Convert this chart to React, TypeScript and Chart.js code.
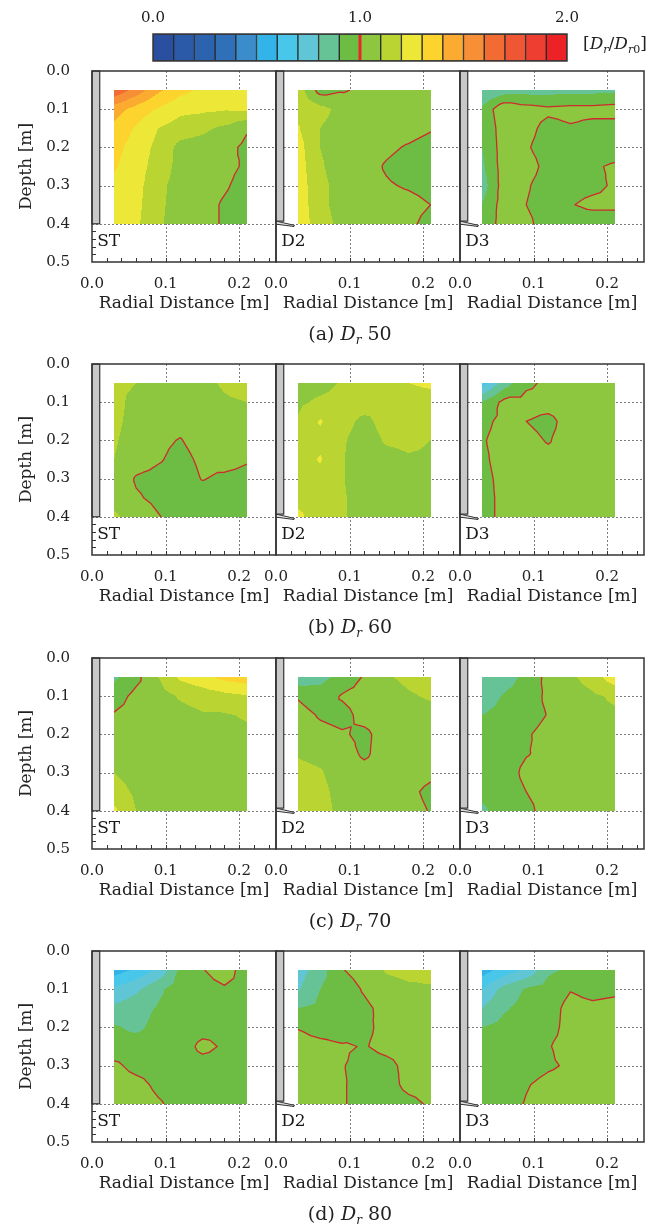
import React, { useEffect, useRef } from "react";
import { Chart, registerables } from "chart.js";

Chart.register(...registerables);

const FONT = "'DejaVu Serif', 'Liberation Serif', serif";

// measurement grid nodes (radial distance x, depth y)
const xNodes = [0.03, 0.06, 0.09, 0.12, 0.15, 0.18, 0.21];
const yNodes = [0.05, 0.1, 0.15, 0.2, 0.25, 0.3, 0.35, 0.4];
const xTickValues = [0, 0.1, 0.2];
const yTickValues = [0, 0.1, 0.2, 0.3, 0.4, 0.5];
const xMinorTicks = [0.02, 0.04, 0.06, 0.08, 0.1, 0.12, 0.14, 0.16, 0.18, 0.2, 0.22, 0.24];
const yMinorTicks = [0.42, 0.44, 0.46, 0.48];
const colorbarTicks = [0, 1, 2];
const contourLevel = 1.0;
const levelColors = [
  "#2a4fa0", "#2b5ba8", "#2c63af", "#2f70b8", "#3a8ccb",
  "#33b4e8", "#48c7ea", "#60c6d6", "#66c396", "#6dbd45",
  "#8dc63f", "#bad532", "#ede837", "#fdd42e", "#fbab30",
  "#f68f35", "#f26b33", "#ef5634", "#ee3e31", "#ec2227",
];
const panelLabels = ["ST", "D2", "D3"];
const rowLetters = ["(a)", "(b)", "(c)", "(d)"];
const rowDr = ["50", "60", "70", "80"];

// Dr/Dr0 values, rows = depth 0.05..0.40, cols = x 0.03..0.21
const dr50_ST = [
  [1.68, 1.56, 1.42, 1.33, 1.28, 1.26, 1.25],
  [1.45, 1.36, 1.29, 1.23, 1.22, 1.21, 1.22],
  [1.37, 1.29, 1.2, 1.15, 1.12, 1.08, 1.01],
  [1.33, 1.26, 1.17, 1.07, 1.06, 1.03, 0.98],
  [1.31, 1.25, 1.15, 1.07, 1.05, 1.02, 0.99],
  [1.28, 1.24, 1.12, 1.07, 1.04, 1.01, 0.97],
  [1.26, 1.23, 1.115, 1.07, 1.03, 0.99, 0.96],
  [1.25, 1.22, 1.11, 1.07, 1.03, 0.99, 0.96],
];
const dr50_D2 = [
  [1.15, 0.96, 0.99, 1.02, 1.05, 1.05, 1.05],
  [1.16, 1.13, 1.07, 1.05, 1.05, 1.05, 1.05],
  [1.21, 1.1, 1.06, 1.05, 1.05, 1.04, 1.01],
  [1.24, 1.1, 1.06, 1.05, 1.02, 0.99, 0.96],
  [1.25, 1.11, 1.06, 1.04, 0.99, 0.96, 0.95],
  [1.26, 1.12, 1.07, 1.04, 1.01, 0.99, 0.97],
  [1.27, 1.12, 1.07, 1.05, 1.04, 1.03, 1.0],
  [1.28, 1.13, 1.08, 1.05, 1.05, 1.02, 0.97],
];
const dr50_D3 = [
  [0.8, 0.85, 0.86, 0.86, 0.87, 0.87, 0.88],
  [0.92, 1.08, 1.04, 1.02, 1.03, 1.03, 1.04],
  [0.9, 1.06, 1.03, 0.97, 0.99, 0.97, 0.96],
  [0.9, 1.05, 1.01, 0.96, 0.96, 0.96, 0.96],
  [0.88, 1.05, 1.04, 0.97, 0.98, 0.99, 1.01],
  [0.85, 1.05, 1.01, 0.96, 0.97, 0.98, 1.01],
  [0.9, 1.05, 1.0, 0.96, 0.995, 1.02, 1.02],
  [0.92, 1.05, 1.02, 0.96, 0.95, 0.95, 0.95],
];
const dr60_ST = [
  [1.12, 1.1, 1.08, 1.07, 1.08, 1.11, 1.13],
  [1.13, 1.07, 1.06, 1.06, 1.07, 1.09, 1.1],
  [1.12, 1.07, 1.05, 1.03, 1.05, 1.06, 1.07],
  [1.11, 1.06, 1.02, 0.995, 1.04, 1.05, 1.06],
  [1.1, 1.05, 1.01, 0.97, 1.02, 1.04, 1.01],
  [1.08, 0.99, 0.97, 0.95, 1.005, 0.98, 0.97],
  [1.06, 1.01, 0.98, 0.95, 0.95, 0.96, 0.96],
  [1.12, 1.05, 1.005, 0.96, 0.95, 0.95, 0.96],
];
const dr60_D2 = [
  [1.05, 1.06, 1.11, 1.13, 1.15, 1.2, 1.23],
  [1.08, 1.12, 1.14, 1.14, 1.13, 1.13, 1.13],
  [1.11, 1.21, 1.13, 1.08, 1.13, 1.14, 1.13],
  [1.13, 1.17, 1.11, 1.06, 1.11, 1.12, 1.1],
  [1.14, 1.21, 1.105, 1.06, 1.07, 1.09, 1.09],
  [1.15, 1.16, 1.105, 1.06, 1.06, 1.07, 1.08],
  [1.17, 1.16, 1.11, 1.06, 1.06, 1.06, 1.07],
  [1.22, 1.15, 1.11, 1.06, 1.05, 1.06, 1.06],
];
const dr60_D3 = [
  [0.65, 0.85, 0.98, 1.02, 1.04, 1.05, 1.05],
  [0.9, 1.03, 1.03, 1.03, 1.04, 1.05, 1.05],
  [0.97, 1.03, 1.0, 0.98, 1.03, 1.04, 1.04],
  [0.99, 1.04, 1.02, 0.995, 1.03, 1.04, 1.04],
  [0.98, 1.04, 1.03, 1.02, 1.03, 1.04, 1.03],
  [0.97, 1.03, 1.04, 1.03, 1.03, 1.03, 1.02],
  [0.96, 1.03, 1.04, 1.03, 1.03, 1.03, 1.02],
  [0.96, 1.03, 1.03, 1.03, 1.03, 1.03, 1.02],
];
const dr70_ST = [
  [0.88, 0.97, 1.1, 1.22, 1.27, 1.33, 1.36],
  [0.95, 1.03, 1.06, 1.11, 1.14, 1.17, 1.19],
  [1.01, 1.04, 1.05, 1.07, 1.09, 1.09, 1.11],
  [1.03, 1.04, 1.05, 1.05, 1.06, 1.07, 1.08],
  [1.05, 1.04, 1.04, 1.04, 1.05, 1.05, 1.06],
  [1.1, 1.06, 1.05, 1.04, 1.04, 1.05, 1.05],
  [1.15, 1.08, 1.06, 1.05, 1.04, 1.04, 1.05],
  [1.22, 1.1, 1.07, 1.05, 1.04, 1.04, 1.05],
];
const dr70_D2 = [
  [0.83, 0.87, 0.93, 1.01, 1.09, 1.12, 1.14],
  [0.99, 0.94, 1.01, 1.04, 1.06, 1.09, 1.11],
  [1.04, 0.99, 0.97, 1.03, 1.05, 1.06, 1.07],
  [1.05, 1.03, 1.01, 0.98, 1.04, 1.05, 1.05],
  [1.09, 1.07, 1.04, 0.985, 1.04, 1.05, 1.05],
  [1.13, 1.11, 1.05, 1.03, 1.04, 1.04, 1.02],
  [1.14, 1.13, 1.06, 1.04, 1.03, 1.02, 0.98],
  [1.15, 1.14, 1.07, 1.04, 1.03, 1.03, 0.995],
];
const dr70_D3 = [
  [0.82, 0.85, 0.93, 1.03, 1.08, 1.15, 1.26],
  [0.83, 0.91, 0.95, 1.02, 1.05, 1.08, 1.12],
  [0.9, 0.94, 0.96, 1.005, 1.03, 1.06, 1.08],
  [0.93, 0.96, 0.99, 1.03, 1.04, 1.05, 1.06],
  [0.94, 0.96, 0.995, 1.02, 1.04, 1.05, 1.05],
  [0.94, 0.96, 1.02, 1.03, 1.04, 1.04, 1.05],
  [0.93, 0.96, 1.0, 1.03, 1.04, 1.04, 1.05],
  [0.88, 0.95, 0.98, 1.03, 1.04, 1.04, 1.04],
];
const dr80_ST = [
  [0.55, 0.62, 0.72, 0.92, 0.995, 1.04, 0.96],
  [0.72, 0.78, 0.88, 0.95, 0.97, 0.99, 0.98],
  [0.82, 0.86, 0.91, 0.95, 0.96, 0.97, 0.97],
  [0.91, 0.88, 0.93, 0.95, 0.97, 0.98, 0.97],
  [0.94, 0.95, 0.96, 0.96, 1.02, 0.99, 0.97],
  [1.02, 0.97, 0.96, 0.96, 0.97, 0.97, 0.97],
  [1.05, 1.03, 0.98, 0.96, 0.96, 0.96, 0.96],
  [1.06, 1.05, 1.01, 0.97, 0.96, 0.96, 0.96],
];
const dr80_D2 = [
  [0.75, 0.86, 0.995, 1.04, 1.11, 1.13, 1.13],
  [0.79, 0.9, 0.95, 1.01, 1.06, 1.08, 1.09],
  [0.9, 0.92, 0.95, 0.98, 1.03, 1.05, 1.05],
  [0.995, 0.96, 0.95, 0.985, 1.02, 1.04, 1.04],
  [1.04, 1.03, 1.01, 0.995, 1.02, 1.03, 1.03],
  [1.05, 1.04, 1.005, 0.97, 0.98, 1.02, 1.03],
  [1.05, 1.04, 1.01, 0.96, 0.97, 1.02, 1.03],
  [1.05, 1.04, 1.01, 0.96, 0.96, 0.98, 1.01],
];
const dr80_D3 = [
  [0.55, 0.64, 0.72, 0.88, 0.92, 0.95, 0.96],
  [0.7, 0.84, 0.91, 0.94, 0.995, 0.97, 0.98],
  [0.8, 0.89, 0.93, 0.96, 1.03, 1.02, 1.03],
  [0.9, 0.93, 0.95, 0.97, 1.03, 1.04, 1.04],
  [0.93, 0.94, 0.96, 0.995, 1.03, 1.04, 1.04],
  [0.94, 0.95, 0.97, 0.99, 1.01, 1.04, 1.04],
  [0.95, 0.96, 0.995, 1.02, 1.03, 1.04, 1.04],
  [0.95, 0.97, 1.005, 1.03, 1.04, 1.04, 1.04],
];

const rowsData = [
  [dr50_ST, dr50_D2, dr50_D3],
  [dr60_ST, dr60_D2, dr60_D3],
  [dr70_ST, dr70_D2, dr70_D3],
  [dr80_ST, dr80_D2, dr80_D3],
];

// layout (page pixels)
const COL_LEFT = [92, 276, 460];
const ROW_TOP = [71, 364, 658, 951];
const PW = 184;
const PH = 191;
const TOP_PAD = 36;
const X_AXIS_H = 58;
const RIGHT_PAD = 14;

const levelRgb = levelColors.map((h) => [
  parseInt(h.slice(1, 3), 16),
  parseInt(h.slice(3, 5), 16),
  parseInt(h.slice(5, 7), 16),
]);

function locate(nodes: number[], v: number) {
  let i = 0;
  while (i < nodes.length - 2 && v > nodes[i + 1]) i++;
  return i;
}

function interp(g: number[][], xv: number, yv: number) {
  const i = locate(xNodes, xv);
  const j = locate(yNodes, yv);
  let u = (xv - xNodes[i]) / (xNodes[i + 1] - xNodes[i]);
  let v = (yv - yNodes[j]) / (yNodes[j + 1] - yNodes[j]);
  u = Math.max(0, Math.min(1, u));
  v = Math.max(0, Math.min(1, v));
  const a = g[j][i], b = g[j][i + 1], c = g[j + 1][i + 1], d = g[j + 1][i];
  const m = (a + b + c + d) / 4;
  if (v <= u && v <= 1 - u) return a + (b - a) * (u - v) + (m - a) * 2 * v;
  if (u >= v && u >= 1 - v) return b + (c - b) * (v - (1 - u)) + (m - b) * 2 * (1 - u);
  if (v >= u && v >= 1 - u) return d + (c - d) * (u - (1 - v)) + (m - d) * 2 * (1 - v);
  return a + (d - a) * (v - u) + (m - a) * 2 * u;
}

function triSeg(P: number[][], L: number) {
  const pts: number[][] = [];
  for (let e = 0; e < 3; e++) {
    const p = P[e], q = P[(e + 1) % 3];
    const sp = p[2] >= L, sq = q[2] >= L;
    if (sp !== sq) {
      const t = (L - p[2]) / (q[2] - p[2]);
      pts.push([p[0] + (q[0] - p[0]) * t, p[1] + (q[1] - p[1]) * t]);
    }
  }
  return pts.length === 2 ? pts : null;
}

function makePanelPlugin(grid: number[][], label: string, isST: boolean) {
  return {
    id: "panelDecor",
    beforeDatasetsDraw(chart: any) {
      const { ctx, chartArea: ca } = chart;
      const xs = chart.scales.x, ys = chart.scales.y;
      const px = (v: number) => xs.getPixelForValue(v);
      const py = (v: number) => ys.getPixelForValue(v);
      ctx.save();
      // dashed grid
      ctx.strokeStyle = "#7c7c7c";
      ctx.lineWidth = 1;
      ctx.setLineDash([2, 2]);
      ctx.beginPath();
      xTickValues.filter((v) => v > 0).forEach((v) => {
        const X = Math.round(px(v)) + 0.5;
        ctx.moveTo(X, ca.top);
        ctx.lineTo(X, ca.bottom);
      });
      yTickValues.filter((v) => v > 0 && v < 0.5).forEach((v) => {
        const Y = Math.round(py(v)) + 0.5;
        ctx.moveTo(ca.left, Y);
        ctx.lineTo(ca.right, Y);
      });
      ctx.stroke();
      ctx.setLineDash([]);

      // contour fill
      const x0 = Math.round(px(xNodes[0]));
      const x1 = Math.round(px(xNodes[xNodes.length - 1]));
      const y0 = Math.round(py(yNodes[0]));
      const y1 = Math.round(py(yNodes[yNodes.length - 1]));
      const w = x1 - x0, h = y1 - y0;
      const off = document.createElement("canvas");
      off.width = w;
      off.height = h;
      const octx = off.getContext("2d")!;
      const img = octx.createImageData(w, h);
      for (let j = 0; j < h; j++) {
        const yv = ys.getValueForPixel(y0 + j + 0.5);
        for (let i = 0; i < w; i++) {
          const xv = xs.getValueForPixel(x0 + i + 0.5);
          const val = interp(grid, xv, yv);
          let k = Math.floor(val * 10 + 1e-9);
          k = Math.max(0, Math.min(19, k));
          const c = levelRgb[k];
          const o = (j * w + i) * 4;
          img.data[o] = c[0];
          img.data[o + 1] = c[1];
          img.data[o + 2] = c[2];
          img.data[o + 3] = 255;
        }
      }
      octx.putImageData(img, 0, 0);
      ctx.drawImage(off, x0, y0);

      // contour line at Dr/Dr0 = 1.0
      ctx.save();
      ctx.beginPath();
      ctx.rect(x0, y0, w, h);
      ctx.clip();
      ctx.strokeStyle = "#cf2a2e";
      ctx.lineWidth = 1.3;
      ctx.lineCap = "round";
      ctx.beginPath();
      for (let j = 0; j < yNodes.length - 1; j++) {
        for (let i = 0; i < xNodes.length - 1; i++) {
          const A = [xNodes[i], yNodes[j], grid[j][i]];
          const B = [xNodes[i + 1], yNodes[j], grid[j][i + 1]];
          const C = [xNodes[i + 1], yNodes[j + 1], grid[j + 1][i + 1]];
          const D = [xNodes[i], yNodes[j + 1], grid[j + 1][i]];
          const M = [(A[0] + B[0]) / 2, (A[1] + D[1]) / 2, (A[2] + B[2] + C[2] + D[2]) / 4];
          [[A, B, M], [B, C, M], [C, D, M], [D, A, M]].forEach((tri) => {
            const s = triSeg(tri, contourLevel);
            if (s) {
              ctx.moveTo(px(s[0][0]), py(s[0][1]));
              ctx.lineTo(px(s[1][0]), py(s[1][1]));
            }
          });
        }
      }
      ctx.stroke();
      ctx.restore();

      // pile
      const pl = px(0), pr = px(0.0105), ptop = py(0), pbot = py(isST ? 0.4 : 0.393);
      ctx.fillStyle = "#c8c8c8";
      ctx.fillRect(pl, ptop, pr - pl, pbot - ptop);
      ctx.strokeStyle = "#333";
      ctx.lineWidth = 1.2;
      ctx.strokeRect(pl, ptop, pr - pl, pbot - ptop);
      if (!isST) {
        ctx.beginPath();
        ctx.moveTo(px(0), py(0.393));
        ctx.lineTo(px(0.025), py(0.404));
        ctx.lineTo(px(0.0245), py(0.407));
        ctx.lineTo(px(0), py(0.401));
        ctx.closePath();
        ctx.fillStyle = "#e2e2e2";
        ctx.fill();
        ctx.lineWidth = 1;
        ctx.stroke();
      }

      // frame
      ctx.strokeStyle = "#333";
      ctx.lineWidth = 1.5;
      ctx.strokeRect(ca.left, ca.top, ca.right - ca.left, ca.bottom - ca.top);

      // minor ticks
      ctx.lineWidth = 1;
      ctx.beginPath();
      xMinorTicks.forEach((v) => {
        const X = Math.round(px(v)) + 0.5;
        ctx.moveTo(X, ca.bottom);
        ctx.lineTo(X, ca.bottom - 4);
      });
      if (isST) {
        yMinorTicks.forEach((v) => {
          const Y = Math.round(py(v)) + 0.5;
          ctx.moveTo(ca.left, Y);
          ctx.lineTo(ca.left + 4, Y);
        });
      }
      ctx.stroke();

      // panel label
      ctx.fillStyle = "#1a1a1a";
      ctx.font = `17px ${FONT}`;
      ctx.textAlign = "left";
      ctx.textBaseline = "middle";
      ctx.fillText(label, px(0.007), py(0.447));
      ctx.restore();
    },
  };
}

function Panel({ grid, label, row, col }: { grid: number[][]; label: string; row: number; col: number }) {
  const ref = useRef<HTMLCanvasElement>(null);
  const isST = col === 0;
  const padL = isST ? 0 : 30;
  const yW = isST ? 92 : 0;
  const left = isST ? 0 : COL_LEFT[col] - padL;
  const width = (isST ? COL_LEFT[0] : padL) + PW + RIGHT_PAD;
  const top = ROW_TOP[row] - TOP_PAD;
  const height = TOP_PAD + PH + X_AXIS_H;

  useEffect(() => {
    const pts: { x: number; y: number }[] = [];
    yNodes.forEach((yv) => xNodes.forEach((xv) => pts.push({ x: xv, y: yv })));
    const chart = new Chart(ref.current!, {
      type: "scatter",
      data: { datasets: [{ data: pts, pointRadius: 0, showLine: false }] },
      options: {
        responsive: false,
        animation: false,
        events: [],
        layout: { padding: { left: padL, top: TOP_PAD, right: RIGHT_PAD, bottom: 0 } },
        plugins: { legend: { display: false }, tooltip: { enabled: false } },
        scales: {
          x: {
            type: "linear",
            min: 0,
            max: 0.25,
            grid: { display: false, drawTicks: false },
            border: { display: false },
            afterBuildTicks: (s: any) => {
              s.ticks = xTickValues.map((v) => ({ value: v }));
            },
            afterFit: (s: any) => {
              s.height = X_AXIS_H;
            },
            ticks: {
              font: { family: FONT, size: 15 },
              color: "#222",
              padding: 13,
              maxRotation: 0,
              autoSkip: false,
              callback: (v: any) => Number(v).toFixed(1),
            },
            title: {
              display: true,
              text: "Radial Distance [m]",
              font: { family: FONT, size: 17 },
              color: "#222",
              padding: { top: 0, bottom: 6 },
            },
          },
          y: {
            type: "linear",
            reverse: true,
            min: 0,
            max: 0.5,
            display: isST,
            grid: { display: false, drawTicks: false },
            border: { display: false },
            afterBuildTicks: (s: any) => {
              s.ticks = yTickValues.map((v) => ({ value: v }));
            },
            afterFit: (s: any) => {
              s.width = yW;
            },
            ticks: {
              font: { family: FONT, size: 15 },
              color: "#222",
              padding: 22,
              autoSkip: false,
              callback: (v: any) => Number(v).toFixed(1),
            },
            title: {
              display: true,
              text: "Depth [m]",
              font: { family: FONT, size: 17 },
              color: "#222",
              padding: { top: 16, bottom: 0 },
            },
          },
        },
      } as any,
      plugins: [makePanelPlugin(grid, label, isST)],
    });
    return () => chart.destroy();
  }, []);

  return (
    <canvas
      ref={ref}
      width={width}
      height={height}
      style={{ position: "absolute", left, top, width, height }}
    />
  );
}

function ColorBar() {
  const ref = useRef<HTMLCanvasElement>(null);
  useEffect(() => {
    const chart = new Chart(ref.current!, {
      type: "bar",
      data: {
        labels: [""],
        datasets: levelColors.map((c, k) => ({
          data: [[k / 10, (k + 1) / 10]],
          backgroundColor: c,
          borderColor: "#2a2a2a",
          borderWidth: 1,
          borderSkipped: false,
          grouped: false,
          barPercentage: 1,
          categoryPercentage: 1,
        })),
      } as any,
      options: {
        indexAxis: "y",
        responsive: false,
        animation: false,
        events: [],
        layout: { padding: { left: 23, right: 23, top: 0, bottom: 9 } },
        plugins: { legend: { display: false }, tooltip: { enabled: false } },
        scales: {
          x: {
            type: "linear",
            position: "top",
            min: 0,
            max: 2,
            grid: { display: false, drawTicks: false },
            border: { display: false },
            afterBuildTicks: (s: any) => {
              s.ticks = colorbarTicks.map((v) => ({ value: v }));
            },
            afterFit: (s: any) => {
              s.height = 34;
            },
            ticks: {
              font: { family: FONT, size: 15 },
              color: "#222",
              padding: 7,
              maxRotation: 0,
              callback: (v: any) => Number(v).toFixed(1),
            },
          },
          y: { display: false },
        },
      } as any,
      plugins: [
        {
          id: "cbMark",
          afterDatasetsDraw(c: any) {
            const { ctx, chartArea: ca } = c;
            const X = c.scales.x.getPixelForValue(contourLevel);
            ctx.save();
            ctx.strokeStyle = "#3a3a3a";
            ctx.lineWidth = 1.5;
            ctx.strokeRect(ca.left, ca.top, ca.right - ca.left, ca.bottom - ca.top);
            ctx.strokeStyle = "#e8262b";
            ctx.lineWidth = 3;
            ctx.beginPath();
            ctx.moveTo(X, ca.top + 1);
            ctx.lineTo(X, ca.bottom - 1);
            ctx.stroke();
            ctx.restore();
          },
        },
      ],
    });
    return () => chart.destroy();
  }, []);
  return (
    <canvas ref={ref} width={460} height={70} style={{ position: "absolute", left: 130, top: 0, width: 460, height: 70 }} />
  );
}

const subStyle: React.CSSProperties = { fontSize: 11, position: "relative", top: 4 };

export default function App() {
  return (
    <div style={{ position: "absolute", left: 0, top: 0, width: 666, height: 1231, fontFamily: FONT, color: "#222", background: "#fff" }}>
      <ColorBar />
      <div style={{ position: "absolute", left: 583, top: 43, transform: "translateY(-50%)", fontSize: 17, whiteSpace: "nowrap", lineHeight: 1 }}>
        [<i>D</i>
        <span style={{ ...subStyle, fontStyle: "italic" }}>r</span>/<i>D</i>
        <span style={subStyle}>
          <i>r</i>0
        </span>
        ]
      </div>
      {rowsData.map((row, r) =>
        row.map((g, c) => <Panel key={`${r}-${c}`} grid={g} label={panelLabels[c]} row={r} col={c} />)
      )}
      {rowLetters.map((lt, r) => (
        <div
          key={lt}
          style={{
            position: "absolute",
            left: 350,
            top: ROW_TOP[r] + PH + 71,
            transform: "translate(-50%, -50%)",
            fontSize: 19,
            whiteSpace: "nowrap",
            lineHeight: 1,
          }}
        >
          {lt} <i>D</i>
          <span style={{ ...subStyle, fontSize: 12, fontStyle: "italic" }}>r</span> {rowDr[r]}
        </div>
      ))}
    </div>
  );
}
